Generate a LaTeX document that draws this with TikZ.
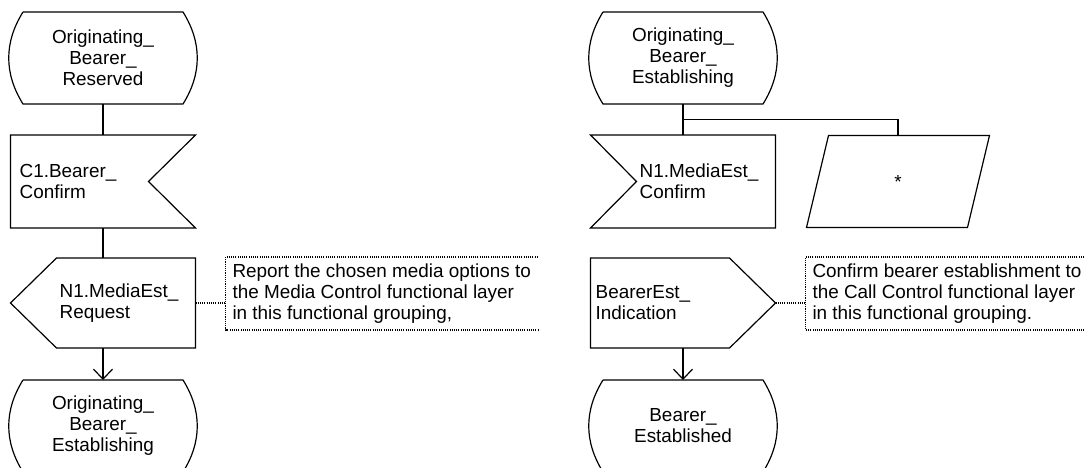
\documentclass[tikz,border=0pt]{standalone}
\usepackage{fontspec}
\setmainfont{Liberation Sans}
\usetikzlibrary{arrows.meta,positioning,calc}

\begin{document}
\begin{tikzpicture}[
    x=1pt, y=-1pt,
    font=\fontsize{18.9}{21}\selectfont,
    state/.style={minimum width=160, minimum height=92, inner sep=0,
      outer sep=0, align=center},
    sym/.style={minimum width=185, minimum height=93, inner sep=0, outer sep=0},
    txt/.style={align=left, inner sep=0},
    note/.style={align=left, inner xsep=7, inner ysep=0, minimum height=73,
      outer sep=0},
    lw/.style={line width=1.2pt},
    dots/.style={line width=1.1pt, dash pattern=on 1.1pt off 1.1pt},
    arr/.style={lw, -{Straight Barb[length=10pt, width=19pt]}},
  ]
    \useasboundingbox (0,0) rectangle (1084,468);

    % left process
    \node[state] (resv) at (103,58) {Originating\_\\Bearer\_\\Reserved};
    \node[sym, below=31pt of resv] (bconf) {};
    \node[txt, right=9pt of bconf.west] (bconf-t) {C1.Bearer\_\\Confirm};
    \node[sym, minimum height=90, below=30pt of bconf] (mreq) {};
    \node[txt, right=49pt of mreq.west] (mreq-t) {N1.MediaEst\_\\Request};
    \node[state, below=32pt of mreq] (estb1) {Originating\_\\Bearer\_\\Establishing};
    \node[note, right=30pt of mreq.east, yshift=9.5pt] (note1)
      {Report the chosen media options to\\the Media Control functional layer\\in this functional grouping,};

    \draw[lw] (resv.north west) -- (resv.north east) to[bend left=32] (resv.south east)
      -- (resv.south west) to[bend left=32] (resv.north west);
    \draw[lw] (bconf.north west) -- (bconf.north east) -- ([xshift=-47pt]bconf.east)
      -- (bconf.south east) -- (bconf.south west) -- cycle;
    \draw[lw] ([xshift=46pt]mreq.north west) -- (mreq.north east) -- (mreq.south east)
      -- ([xshift=46pt]mreq.south west) -- (mreq.west) -- cycle;
    \draw[lw] (estb1.north west) -- (estb1.north east) to[bend left=32] (estb1.south east)
      -- (estb1.south west) to[bend left=32] (estb1.north west);

    \draw[lw] (resv) -- (bconf);
    \draw[lw] (bconf) -- (mreq);
    \draw[arr] (mreq) -- (estb1);
    \draw[dots] (mreq.east) -- (mreq.east -| note1.west);
    \draw[dots] (note1.north east) -- (note1.north west) -- (note1.south west)
      -- (note1.south east);

    % right process
    \node[state] (estb2) at (683,58) {Originating\_\\Bearer\_\\Establishing};
    \node[sym, below=31pt of estb2] (mconf) {};
    \node[txt, right=49pt of mconf.west] (mconf-t) {N1.MediaEst\_\\Confirm};
    \node[sym, minimum width=161, minimum height=92, right=42pt of mconf] (task) {*};
    \node[sym, minimum height=90, below=30pt of mconf] (bind) {};
    \node[txt, right=5pt of bind.west] (bind-t) {BearerEst\_\\Indication};
    \node[state, below=32pt of bind] (estd) {Bearer\_\\Established};
    \node[note, right=30pt of bind.east, yshift=9.5pt] (note2)
      {Confirm bearer establishment to\\the Call Control functional layer\\in this functional grouping.};

    \draw[lw] (estb2.north west) -- (estb2.north east) to[bend left=32] (estb2.south east)
      -- (estb2.south west) to[bend left=32] (estb2.north west);
    \draw[lw] (mconf.north west) -- (mconf.north east) -- (mconf.south east)
      -- (mconf.south west) -- ([xshift=46pt]mconf.west) -- cycle;
    \draw[lw] ([xshift=11pt]task.north west) -- ([xshift=11pt]task.north east)
      -- ([xshift=-11pt]task.south east) -- ([xshift=-11pt]task.south west) -- cycle;
    \draw[lw] (bind.north west) -- ([xshift=-46pt]bind.north east) -- (bind.east)
      -- ([xshift=-46pt]bind.south east) -- (bind.south west) -- cycle;
    \draw[lw] (estd.north west) -- (estd.north east) to[bend left=32] (estd.south east)
      -- (estd.south west) to[bend left=32] (estd.north west);

    \coordinate (fork) at ($(estb2.south)!0.5!(mconf.north)$);
    \draw[lw] (estb2) -- (mconf);
    \draw[lw] (fork) -| (task.north);
    \draw[arr] (bind) -- (estd);
    \draw[dots] (bind.east) -- (bind.east -| note2.west);
    \draw[dots] (note2.north east) -- (note2.north west) -- (note2.south west)
      -- (note2.south east);
\end{tikzpicture}
\end{document}
